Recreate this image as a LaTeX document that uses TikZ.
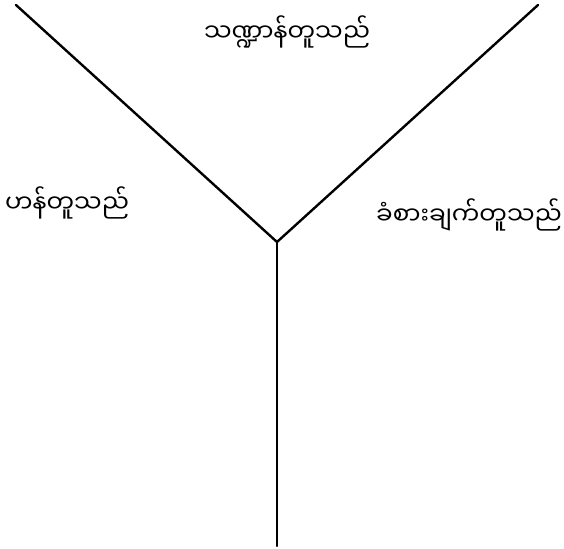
\documentclass[tikz,border=0pt]{standalone}
\usepackage{fontspec}
\newfontfamily\mmfont[Script=Myanmar]{Noto Sans Myanmar UI}
\usetikzlibrary{positioning}
\tikzset{
  branch-line/.style={draw=black, line width=2.4pt, line cap=round},
  branch-label/.style={font=\mmfont\fontsize{24.5}{29}\selectfont, inner sep=0pt}
}
\begin{document}
\begin{tikzpicture}[x=1pt, y=1pt]
  \useasboundingbox (0,0) rectangle (564,548);
  % end points of the three branches
  \coordinate (fork) at (277,306);
  \coordinate (top-left) at (16,543);
  \coordinate (top-right) at (538,543);
  \coordinate (stem) at (277,2);

  \draw[branch-line] (top-left) -- (fork) -- (top-right);
  \draw[branch-line] (fork) -- (stem);

  % labels
  \node[branch-label] (shape) at (287,516) {သဏ္ဍာန်တူသည်};
  \node[branch-label] (manner) at (67,345) {ဟန်တူသည်};
  \node[branch-label] (feeling) at (469,333) {ခံစားချက်တူသည်};
\end{tikzpicture}
\end{document}
